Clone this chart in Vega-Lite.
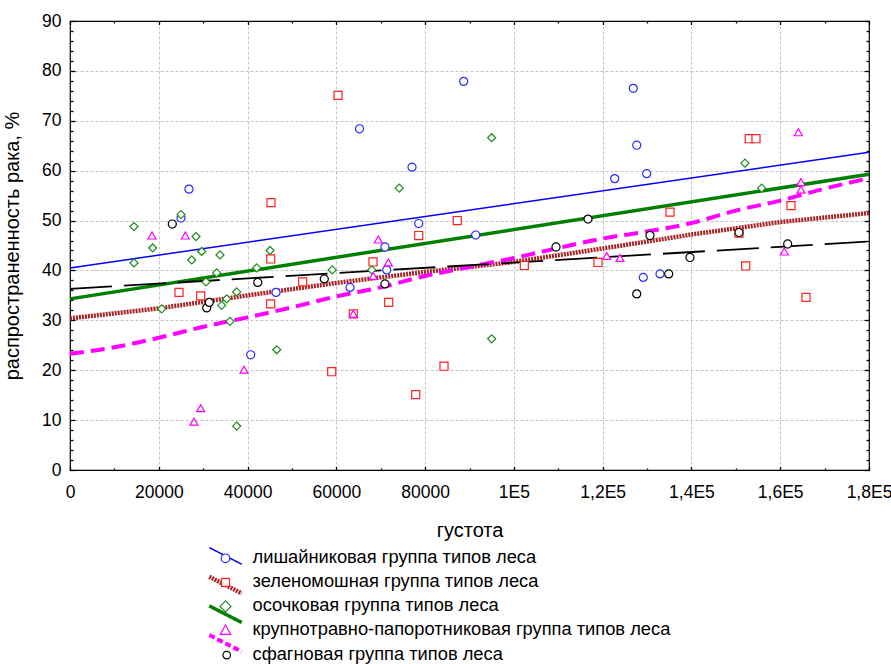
{
  "$schema": "https://vega.github.io/schema/vega-lite/v6.json",
  "width": 799,
  "height": 449,
  "autosize": {"type": "none"},
  "padding": {"left": 70, "top": 21, "right": 22, "bottom": 194},
  "config": {
    "font": "Liberation Sans",
    "view": {"stroke": "black", "strokeWidth": 1.2},
    "axis": {"labelFont": "Liberation Sans", "titleFont": "Liberation Sans", "labelColor": "black", "titleColor": "black", "titleFontWeight": "normal", "tickColor": "black", "tickWidth": 1.3},
    "legend": {"orient": "none", "direction": "vertical", "padding": 0, "symbolSize": 400, "symbolStrokeWidth": 1.5, "labelFont": "Liberation Sans", "labelColor": "black", "labelLimit": 0, "title": null}
  },
  "datasets": {
    "points": [
      {"group": "лишайниковая группа типов леса", "x": 88690, "y": 77.9},
      {"group": "лишайниковая группа типов леса", "x": 126900, "y": 76.5},
      {"group": "лишайниковая группа типов леса", "x": 65220, "y": 68.4},
      {"group": "лишайниковая группа типов леса", "x": 127670, "y": 65.1},
      {"group": "лишайниковая группа типов леса", "x": 77050, "y": 60.7},
      {"group": "лишайниковая группа типов леса", "x": 129920, "y": 59.4},
      {"group": "лишайниковая группа типов леса", "x": 122710, "y": 58.4},
      {"group": "лишайниковая группа типов леса", "x": 26810, "y": 56.3},
      {"group": "лишайниковая группа типов леса", "x": 25010, "y": 50.5},
      {"group": "лишайниковая группа типов леса", "x": 78560, "y": 49.4},
      {"group": "лишайниковая группа типов леса", "x": 91400, "y": 47.1},
      {"group": "лишайниковая группа типов леса", "x": 70960, "y": 44.7},
      {"group": "лишайниковая группа типов леса", "x": 71350, "y": 40.1},
      {"group": "лишайниковая группа типов леса", "x": 63080, "y": 36.6},
      {"group": "лишайниковая группа типов леса", "x": 46410, "y": 35.6},
      {"group": "лишайниковая группа типов леса", "x": 40710, "y": 23.1},
      {"group": "лишайниковая группа типов леса", "x": 129150, "y": 38.6},
      {"group": "лишайниковая группа типов леса", "x": 132920, "y": 39.3},
      {"group": "зеленомошная группа типов леса", "x": 60380, "y": 75.1},
      {"group": "зеленомошная группа типов леса", "x": 153030, "y": 66.4},
      {"group": "зеленомошная группа типов леса", "x": 154540, "y": 66.4},
      {"group": "зеленомошная группа типов леса", "x": 45280, "y": 53.6},
      {"group": "зеленомошная группа типов леса", "x": 162430, "y": 53.0},
      {"group": "зеленомошная группа типов леса", "x": 87250, "y": 50.0},
      {"group": "зеленомошная группа типов леса", "x": 135170, "y": 51.7},
      {"group": "зеленомошная группа типов леса", "x": 78560, "y": 47.0},
      {"group": "зеленомошная группа типов леса", "x": 150710, "y": 47.5},
      {"group": "зеленомошная группа типов леса", "x": 68260, "y": 41.7},
      {"group": "зеленомошная группа типов леса", "x": 102350, "y": 41.0},
      {"group": "зеленомошная группа типов леса", "x": 118950, "y": 41.6},
      {"group": "зеленомошная группа типов леса", "x": 45210, "y": 42.3},
      {"group": "зеленомошная группа типов леса", "x": 52420, "y": 37.7},
      {"group": "зеленомошная группа типов леса", "x": 24560, "y": 35.6},
      {"group": "зеленомошная группа типов леса", "x": 29440, "y": 34.9},
      {"group": "зеленомошная группа типов леса", "x": 45210, "y": 33.3},
      {"group": "зеленомошная группа типов леса", "x": 71800, "y": 33.6},
      {"group": "зеленомошная группа типов леса", "x": 63820, "y": 31.3},
      {"group": "зеленомошная группа типов леса", "x": 152220, "y": 40.9},
      {"group": "зеленомошная группа типов леса", "x": 165810, "y": 34.6},
      {"group": "зеленомошная группа типов леса", "x": 84250, "y": 20.8},
      {"group": "зеленомошная группа типов леса", "x": 58960, "y": 19.7},
      {"group": "зеленомошная группа типов леса", "x": 77880, "y": 15.1},
      {"group": "осочковая группа типов леса", "x": 95000, "y": 66.6},
      {"group": "осочковая группа типов леса", "x": 152060, "y": 61.5},
      {"group": "осочковая группа типов леса", "x": 74180, "y": 56.5},
      {"group": "осочковая группа типов леса", "x": 155830, "y": 56.5},
      {"group": "осочковая группа типов леса", "x": 25010, "y": 51.2},
      {"group": "осочковая группа типов леса", "x": 14420, "y": 48.8},
      {"group": "осочковая группа типов леса", "x": 28390, "y": 46.8},
      {"group": "осочковая группа типов леса", "x": 18630, "y": 44.5},
      {"group": "осочковая группа типов леса", "x": 29670, "y": 43.8},
      {"group": "осочковая группа типов леса", "x": 33790, "y": 43.1},
      {"group": "осочковая группа типов леса", "x": 45060, "y": 44.0},
      {"group": "осочковая группа типов леса", "x": 27420, "y": 42.1},
      {"group": "осочковая группа типов леса", "x": 14420, "y": 41.5},
      {"group": "осочковая группа типов леса", "x": 42060, "y": 40.5},
      {"group": "осочковая группа типов леса", "x": 59090, "y": 40.1},
      {"group": "осочковая группа типов леса", "x": 67970, "y": 40.1},
      {"group": "осочковая группа типов леса", "x": 33050, "y": 39.5},
      {"group": "осочковая группа типов леса", "x": 30640, "y": 37.7},
      {"group": "осочковая группа типов леса", "x": 37550, "y": 35.7},
      {"group": "осочковая группа типов леса", "x": 35300, "y": 34.3},
      {"group": "осочковая группа типов леса", "x": 34170, "y": 33.0},
      {"group": "осочковая группа типов леса", "x": 20660, "y": 32.3},
      {"group": "осочковая группа типов леса", "x": 36040, "y": 29.8},
      {"group": "осочковая группа типов леса", "x": 46570, "y": 24.1},
      {"group": "осочковая группа типов леса", "x": 95000, "y": 26.3},
      {"group": "осочковая группа типов леса", "x": 37550, "y": 8.8},
      {"group": "крупнотравно-папоротниковая группа типов леса", "x": 164070, "y": 67.7},
      {"group": "крупнотравно-папоротниковая группа типов леса", "x": 164680, "y": 57.7},
      {"group": "крупнотравно-папоротниковая группа типов леса", "x": 164680, "y": 56.2},
      {"group": "крупнотравно-папоротниковая группа типов леса", "x": 18470, "y": 47.0},
      {"group": "крупнотравно-папоротниковая группа типов леса", "x": 25980, "y": 47.0},
      {"group": "крупнотравно-папоротниковая группа типов леса", "x": 69450, "y": 46.2},
      {"group": "крупнотравно-папоротниковая группа типов леса", "x": 71710, "y": 41.6},
      {"group": "крупнотравно-папоротниковая группа типов леса", "x": 68330, "y": 38.9},
      {"group": "крупнотравно-папоротниковая группа типов леса", "x": 120910, "y": 42.9},
      {"group": "крупнотравно-папоротниковая группа типов леса", "x": 123900, "y": 42.5},
      {"group": "крупнотравно-папоротниковая группа типов леса", "x": 160920, "y": 43.8},
      {"group": "крупнотравно-папоротниковая группа типов леса", "x": 63820, "y": 31.3},
      {"group": "крупнотравно-папоротниковая группа типов леса", "x": 39200, "y": 20.1},
      {"group": "крупнотравно-папоротниковая группа типов леса", "x": 29440, "y": 12.4},
      {"group": "крупнотравно-папоротниковая группа типов леса", "x": 27930, "y": 9.7},
      {"group": "сфагновая группа типов леса", "x": 23050, "y": 49.3},
      {"group": "сфагновая группа типов леса", "x": 30800, "y": 32.5},
      {"group": "сфагновая группа типов леса", "x": 31380, "y": 33.6},
      {"group": "сфагновая группа типов леса", "x": 42290, "y": 37.6},
      {"group": "сфагновая группа типов леса", "x": 57290, "y": 38.3},
      {"group": "сфагновая группа типов леса", "x": 70960, "y": 37.3},
      {"group": "сфагновая группа типов леса", "x": 109490, "y": 44.7},
      {"group": "сфагновая группа типов леса", "x": 116700, "y": 50.3},
      {"group": "сфагновая группа типов леса", "x": 130660, "y": 47.0},
      {"group": "сфагновая группа типов леса", "x": 127670, "y": 35.3},
      {"group": "сфагновая группа типов леса", "x": 134880, "y": 39.3},
      {"group": "сфагновая группа типов леса", "x": 139670, "y": 42.6},
      {"group": "сфагновая группа типов леса", "x": 150710, "y": 47.6},
      {"group": "сфагновая группа типов леса", "x": 161680, "y": 45.3}
    ],
    "fits": [
      {"group": "лишайниковая группа типов леса", "x": 0, "y": 40.5},
      {"group": "лишайниковая группа типов леса", "x": 180000, "y": 63.7},
      {"group": "зеленомошная группа типов леса", "x": 0, "y": 30.4},
      {"group": "зеленомошная группа типов леса", "x": 20000, "y": 32.4},
      {"group": "зеленомошная группа типов леса", "x": 40000, "y": 35.0},
      {"group": "зеленомошная группа типов леса", "x": 60000, "y": 37.5},
      {"group": "зеленомошная группа типов леса", "x": 80000, "y": 39.7},
      {"group": "зеленомошная группа типов леса", "x": 100000, "y": 41.7},
      {"group": "зеленомошная группа типов леса", "x": 120000, "y": 44.4},
      {"group": "зеленомошная группа типов леса", "x": 140000, "y": 47.2},
      {"group": "зеленомошная группа типов леса", "x": 160000, "y": 49.7},
      {"group": "зеленомошная группа типов леса", "x": 180000, "y": 51.5},
      {"group": "осочковая группа типов леса", "x": 0, "y": 34.3},
      {"group": "осочковая группа типов леса", "x": 180000, "y": 59.3},
      {"group": "крупнотравно-папоротниковая группа типов леса", "x": 0, "y": 23.3},
      {"group": "крупнотравно-папоротниковая группа типов леса", "x": 10000, "y": 24.6},
      {"group": "крупнотравно-папоротниковая группа типов леса", "x": 20000, "y": 26.5},
      {"group": "крупнотравно-папоротниковая группа типов леса", "x": 30000, "y": 28.7},
      {"group": "крупнотравно-папоротниковая группа типов леса", "x": 40000, "y": 30.6},
      {"group": "крупнотравно-папоротниковая группа типов леса", "x": 50000, "y": 32.6},
      {"group": "крупнотравно-папоротниковая группа типов леса", "x": 60000, "y": 34.8},
      {"group": "крупнотравно-папоротниковая группа типов леса", "x": 70000, "y": 36.6},
      {"group": "крупнотравно-папоротниковая группа типов леса", "x": 80000, "y": 38.9},
      {"group": "крупнотравно-папоротниковая группа типов леса", "x": 90000, "y": 40.7},
      {"group": "крупнотравно-папоротниковая группа типов леса", "x": 100000, "y": 42.5},
      {"group": "крупнотравно-папоротниковая группа типов леса", "x": 110000, "y": 44.5},
      {"group": "крупнотравно-папоротниковая группа типов леса", "x": 120000, "y": 46.4},
      {"group": "крупнотравно-папоротниковая группа типов леса", "x": 130000, "y": 47.8},
      {"group": "крупнотравно-папоротниковая группа типов леса", "x": 140000, "y": 49.5},
      {"group": "крупнотравно-папоротниковая группа типов леса", "x": 150000, "y": 52.0},
      {"group": "крупнотравно-папоротниковая группа типов леса", "x": 160000, "y": 54.0},
      {"group": "крупнотравно-папоротниковая группа типов леса", "x": 170000, "y": 56.4},
      {"group": "крупнотравно-папоротниковая группа типов леса", "x": 180000, "y": 58.5},
      {"group": "сфагновая группа типов леса", "x": 0, "y": 36.3},
      {"group": "сфагновая группа типов леса", "x": 180000, "y": 45.8}
    ]
  },
  "layer": [
    {
      "data": {"name": "fits"},
      "transform": [{"filter": "datum.group == 'лишайниковая группа типов леса'"}],
      "mark": {"type": "line", "color": "#0000ff", "strokeWidth": 1.5},
      "encoding": {
        "x": {"field": "x", "type": "quantitative", "scale": {"domain": [0, 180000], "nice": false, "zero": false},
          "axis": {"orient": "bottom", "values": [20000, 40000, 60000, 80000, 100000, 120000, 140000, 160000], "grid": true, "gridColor": "#c4c4c4", "gridDash": [3, 2], "gridWidth": 1, "labels": false, "ticks": false, "domain": false, "title": null}},
        "y": {"field": "y", "type": "quantitative", "scale": {"domain": [0, 90], "nice": false, "zero": false},
          "axis": {"orient": "left", "values": [10, 20, 30, 40, 50, 60, 70, 80], "grid": true, "gridColor": "#c4c4c4", "gridDash": [3, 2], "gridWidth": 1, "labels": false, "ticks": false, "domain": false, "title": null}}
      }
    },
    {
      "data": {"name": "fits"},
      "transform": [{"filter": "datum.group == 'зеленомошная группа типов леса'"}],
      "mark": {"type": "line", "color": "#a82424", "strokeWidth": 4.5, "strokeDash": [2, 1]},
      "encoding": {
        "x": {"field": "x", "type": "quantitative", "axis": null},
        "y": {"field": "y", "type": "quantitative", "axis": null}
      }
    },
    {
      "data": {"name": "fits"},
      "transform": [{"filter": "datum.group == 'осочковая группа типов леса'"}],
      "mark": {"type": "line", "color": "#008000", "strokeWidth": 3.5},
      "encoding": {
        "x": {"field": "x", "type": "quantitative", "axis": null},
        "y": {"field": "y", "type": "quantitative", "axis": null}
      }
    },
    {
      "data": {"name": "fits"},
      "transform": [{"filter": "datum.group == 'крупнотравно-папоротниковая группа типов леса'"}],
      "mark": {"type": "line", "color": "#ff00ff", "strokeWidth": 4, "strokeDash": [14, 7], "interpolate": "monotone"},
      "encoding": {
        "x": {"field": "x", "type": "quantitative", "axis": null},
        "y": {"field": "y", "type": "quantitative", "axis": null}
      }
    },
    {
      "data": {"name": "fits"},
      "transform": [{"filter": "datum.group == 'сфагновая группа типов леса'"}],
      "mark": {"type": "line", "color": "#000000", "strokeWidth": 1.8, "strokeDash": [42, 12]},
      "encoding": {
        "x": {"field": "x", "type": "quantitative", "axis": null},
        "y": {"field": "y", "type": "quantitative", "axis": null}
      }
    },
    {
      "data": {"name": "points"},
      "mark": {"type": "point", "filled": false, "fill": "white", "opacity": 1, "strokeWidth": 1.2, "size": 65},
      "encoding": {
        "x": {"field": "x", "type": "quantitative",
          "axis": {"orient": "bottom", "values": [0, 20000, 40000, 60000, 80000, 100000, 120000, 140000, 160000, 180000], "labelExpr": "datum.value < 100000 ? format(datum.value, 'd') : datum.value == 100000 ? '1E5' : replace(format(datum.value / 100000, '.1f'), '.', ',') + 'E5'", "labelFontSize": 17.5, "labelPadding": 13.5, "labelFlush": false, "labelOverlap": false, "ticks": false, "domain": false, "grid": false, "title": "густота", "titleFontSize": 20, "titlePadding": 19}},
        "y": {"field": "y", "type": "quantitative",
          "axis": {"orient": "left", "values": [0, 10, 20, 30, 40, 50, 60, 70, 80, 90], "labelFontSize": 17.5, "labelPadding": 9, "labelFlush": false, "labelOverlap": false, "ticks": false, "domain": false, "grid": false, "title": "распространенность рака, %", "titleFontSize": 20, "titlePadding": 19}},
        "color": {"field": "group", "type": "nominal", "legend": null,
          "scale": {"domain": ["лишайниковая группа типов леса", "зеленомошная группа типов леса", "осочковая группа типов леса", "крупнотравно-папоротниковая группа типов леса", "сфагновая группа типов леса"], "range": ["#2a2aff", "#ff2020", "#1f8a1f", "#ff00ff", "#000000"]}},
        "shape": {"field": "group", "type": "nominal", "legend": null,
          "scale": {"domain": ["лишайниковая группа типов леса", "зеленомошная группа типов леса", "осочковая группа типов леса", "крупнотравно-папоротниковая группа типов леса", "сфагновая группа типов леса"], "range": ["circle", "square", "diamond", "triangle-up", "circle"]}}
      }
    },
    {
      "data": {"name": "points"},
      "transform": [{"filter": "false"}],
      "mark": {"type": "point", "filled": false, "opacity": 1, "strokeWidth": 1.5},
      "encoding": {
        "x": {"field": "x", "type": "quantitative",
          "axis": {"orient": "bottom", "values": [0, 20000, 40000, 60000, 80000, 100000, 120000, 140000, 160000, 180000], "labels": false, "ticks": true, "tickSize": -3.5, "domain": false, "grid": false, "title": null}},
        "y": {"field": "y", "type": "quantitative",
          "axis": {"orient": "left", "values": [0, 10, 20, 30, 40, 50, 60, 70, 80, 90], "labels": false, "ticks": true, "tickSize": -5, "domain": false, "grid": false, "title": null}},
        "color": {"field": "group", "type": "nominal",
          "scale": {"domain": ["лишайниковая группа типов леса", "зеленомошная группа типов леса", "осочковая группа типов леса", "крупнотравно-папоротниковая группа типов леса", "сфагновая группа типов леса"], "range": ["#0000ff", "#a82424", "#008000", "#ff00ff", "#000000"]},
          "legend": {"legendX": 144.5, "legendY": 523.9, "labelFontSize": 1, "labelExpr": "''", "labelOffset": 16, "rowPadding": 1.15}},
        "shape": {"field": "group", "type": "nominal",
          "scale": {"domain": ["лишайниковая группа типов леса", "зеленомошная группа типов леса", "осочковая группа типов леса", "крупнотравно-папоротниковая группа типов леса", "сфагновая группа типов леса"],
            "range": [
              "M0,-1.1L0,-1.1M0,1.1L0,1.1M-1.62,-0.83L1.62,0.83",
              "M0,-1.1L0,-1.1M0,1.1L0,1.1M-1.552,-0.964L1.688,0.697M-1.597,-0.875L1.643,0.786M-1.643,-0.786L1.597,0.875M-1.688,-0.697L1.552,0.964",
              "M0,-1.1L0,-1.1M0,1.1L0,1.1M-1.574,-0.919L1.666,0.741M-1.62,-0.83L1.62,0.83M-1.666,-0.741L1.574,0.919",
              "M0,-1.1L0,-1.1M0,1.1L0,1.1M-1.563,-0.941L1.677,0.719M-1.62,-0.83L1.62,0.83M-1.677,-0.719L1.563,0.941",
              "M0,-1.1L0,-1.1M0,1.1L0,1.1M-1.72,-0.5L-0.38,0.06"
            ]},
          "legend": {"legendX": 144.5, "legendY": 523.9, "labelFontSize": 1, "labelExpr": "''", "labelOffset": 16, "rowPadding": 1.15}},
        "strokeDash": {"field": "group", "type": "nominal",
          "scale": {"domain": ["лишайниковая группа типов леса", "зеленомошная группа типов леса", "осочковая группа типов леса", "крупнотравно-папоротниковая группа типов леса", "сфагновая группа типов леса"], "range": [[1, 0], [2, 1], [1, 0], [6, 3], [42, 12]]},
          "legend": {"legendX": 144.5, "legendY": 523.9, "labelFontSize": 1, "labelExpr": "''", "labelOffset": 16, "rowPadding": 1.15}}
      }
    },
    {
      "data": {"name": "points"},
      "transform": [{"filter": "false"}],
      "mark": {"type": "point", "filled": false, "fill": "white", "opacity": 1, "strokeWidth": 1.2},
      "encoding": {
        "x": {"field": "x", "type": "quantitative",
          "axis": {"orient": "top", "values": [0, 20000, 40000, 60000, 80000, 100000, 120000, 140000, 160000, 180000], "labels": false, "ticks": true, "tickSize": -3.5, "domain": false, "grid": false, "title": null}},
        "y": {"field": "y", "type": "quantitative",
          "axis": {"orient": "right", "values": [0, 10, 20, 30, 40, 50, 60, 70, 80, 90], "labels": false, "ticks": true, "tickSize": -5, "domain": false, "grid": false, "title": null}},
        "color": {"field": "group", "type": "nominal",
          "scale": {"domain": ["лишайниковая группа типов леса", "зеленомошная группа типов леса", "осочковая группа типов леса", "крупнотравно-папоротниковая группа типов леса", "сфагновая группа типов леса"], "range": ["#2a2aff", "#ff2020", "#1f8a1f", "#ff00ff", "#000000"]},
          "legend": {"legendX": 144.5, "legendY": 526.3, "labelFontSize": 18.3, "labelOffset": 16, "rowPadding": 4.05, "symbolFillColor": "white", "symbolStrokeWidth": 1.2}},
        "shape": {"field": "group", "type": "nominal",
          "scale": {"domain": ["лишайниковая группа типов леса", "зеленомошная группа типов леса", "осочковая группа типов леса", "крупнотравно-папоротниковая группа типов леса", "сфагновая группа типов леса"],
            "range": [
              "M0.43,0A0.43,0.43 0 1 1 -0.43,0A0.43,0.43 0 1 1 0.43,0Z",
              "M-0.4,-0.4L0.4,-0.4L0.4,0.4L-0.4,0.4Z",
              "M0,-0.55L0.55,0L0,0.55L-0.55,0Z",
              "M0,-0.55L0.52,0.4L-0.52,0.4Z",
              "M0.5,0.06A0.38,0.38 0 1 1 -0.26,0.06A0.38,0.38 0 1 1 0.5,0.06Z"
            ]},
          "legend": {"legendX": 144.5, "legendY": 526.3, "labelFontSize": 18.3, "labelOffset": 16, "rowPadding": 4.05, "symbolFillColor": "white", "symbolStrokeWidth": 1.2}}
      }
    },
    {
      "data": {"name": "points"},
      "transform": [{"filter": "false"}],
      "mark": {"type": "point", "opacity": 1},
      "encoding": {
        "x": {"field": "x", "type": "quantitative",
          "axis": {"orient": "bottom", "values": [10000, 30000, 50000, 70000, 90000, 110000, 130000, 150000, 170000], "labels": false, "ticks": true, "tickSize": -2, "domain": false, "grid": false, "title": null}},
        "y": {"field": "y", "type": "quantitative",
          "axis": {"orient": "left", "values": [2, 4, 6, 8, 12, 14, 16, 18, 22, 24, 26, 28, 32, 34, 36, 38, 42, 44, 46, 48, 52, 54, 56, 58, 62, 64, 66, 68, 72, 74, 76, 78, 82, 84, 86, 88], "labels": false, "ticks": true, "tickSize": -3, "domain": false, "grid": false, "title": null}}
      }
    },
    {
      "data": {"name": "points"},
      "transform": [{"filter": "false"}],
      "mark": {"type": "point", "opacity": 1},
      "encoding": {
        "x": {"field": "x", "type": "quantitative",
          "axis": {"orient": "top", "values": [10000, 30000, 50000, 70000, 90000, 110000, 130000, 150000, 170000], "labels": false, "ticks": true, "tickSize": -2, "domain": false, "grid": false, "title": null}},
        "y": {"field": "y", "type": "quantitative",
          "axis": {"orient": "right", "values": [2, 4, 6, 8, 12, 14, 16, 18, 22, 24, 26, 28, 32, 34, 36, 38, 42, 44, 46, 48, 52, 54, 56, 58, 62, 64, 66, 68, 72, 74, 76, 78, 82, 84, 86, 88], "labels": false, "ticks": true, "tickSize": -3, "domain": false, "grid": false, "title": null}}
      }
    }
  ],
  "resolve": {
    "scale": {"color": "independent", "shape": "independent", "strokeDash": "independent"},
    "axis": {"x": "independent", "y": "independent"}
  }
}
